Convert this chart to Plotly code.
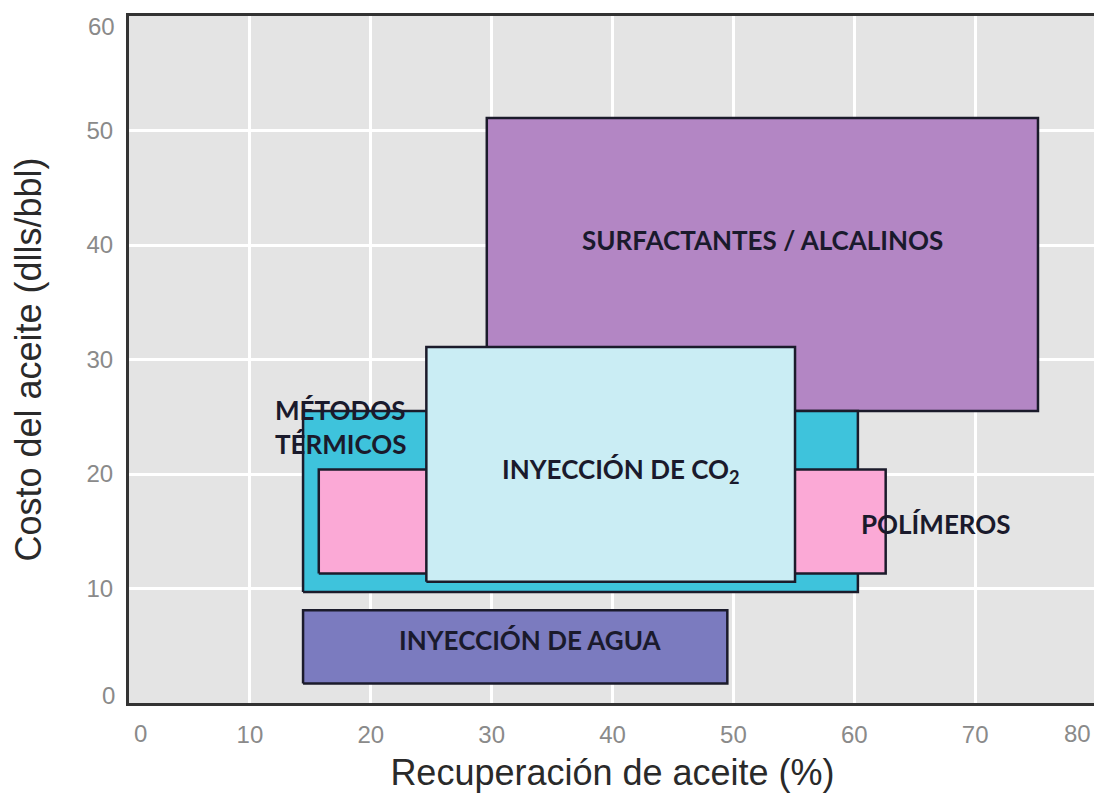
import plotly.graph_objects as go

# Data: rectangles (recovery % range, cost range)
methods = ["SURFACTANTES / ALCALINOS", "MÉTODOS TÉRMICOS", "POLÍMEROS", "INYECCIÓN DE CO₂", "INYECCIÓN DE AGUA"]
x_min = [29.6, 14.4, 15.7, 24.6, 14.4]
x_max = [75.2, 60.3, 62.6, 55.1, 49.5]
y_min = [25.5, 9.7, 11.3, 10.6, 1.7]
y_max = [51.1, 25.5, 20.4, 31.1, 8.1]
colors = ["#B386C4", "#3EC3DC", "#FBA9D6", "#CAEDF4", "#7B7BBF"]

label_text = ["SURFACTANTES / ALCALINOS", "MÉTODOS<br>TÉRMICOS", "POLÍMEROS",
              "INYECCIÓN DE CO<sub>2</sub>", "INYECCIÓN DE AGUA"]
label_x = [52.4, 17.5, 66.8, 40.7, 33.2]
label_y = [40.4, 24.1, 15.6, 20.3, 5.5]

x_ticks = [0, 10, 20, 30, 40, 50, 60, 70, 80]
y_ticks = [0, 10, 20, 30, 40, 50, 60]

TICK_FONT = dict(family="Liberation Sans, Arial", size=24, color="#8a8a8a")

fig = go.Figure()
for i, m in enumerate(methods):
    fig.add_trace(go.Scatter(
        x=[x_min[i], x_max[i], x_max[i], x_min[i], x_min[i]],
        y=[y_min[i], y_min[i], y_max[i], y_max[i], y_min[i]],
        mode="lines", fill="toself", fillcolor=colors[i],
        line=dict(color="#1b1b2b", width=2.5),
        name=m, hoverinfo="name", showlegend=False))

for t, x, y in zip(label_text, label_x, label_y):
    fig.add_annotation(x=x, y=y, text=t, showarrow=False, xref="x", yref="y",
                       font=dict(family="Lato", size=26, color="#1a1a2c", weight="bold"),
                       align="left" if "MÉTODOS" in t else "center")

# end tick labels are pulled inward in the reference: axis draws interior ones,
# end values are placed as text at their tick with a small inward nudge
x_end = [x_ticks[0], x_ticks[-1]]
x_end_nudge = [11, -19]
for v, dx in zip(x_end, x_end_nudge):
    fig.add_annotation(x=v, y=0, xref="x", yref="paper", text=str(v), showarrow=False,
                       xanchor="center", yanchor="middle", xshift=dx, yshift=-30, font=TICK_FONT)
y_end = [y_ticks[0], y_ticks[-1]]
y_end_nudge = [8, -10]
for v, dy in zip(y_end, y_end_nudge):
    fig.add_annotation(x=0, y=v, xref="paper", yref="y", text=str(v), showarrow=False,
                       xanchor="right", yanchor="middle", xshift=-12, yshift=dy, font=TICK_FONT)

# page body has an 8px margin: size/margins compensate so the plot lands where the reference has it
fig.update_layout(
    width=1094, height=786,
    margin=dict(l=121, r=6, t=8, b=91),
    paper_bgcolor="white", plot_bgcolor="#E4E4E4",
    font=dict(family="Liberation Sans, Arial", color="#222"),
)
fig.update_xaxes(range=[0, 80], tickvals=x_ticks[1:-1], showgrid=True,
                 gridcolor="white", gridwidth=2.5, automargin=False,
                 zeroline=False, showline=True, linecolor="#333", linewidth=3, mirror=True,
                 ticks="outside", ticklen=8, tickcolor="rgba(0,0,0,0)",
                 tickfont=TICK_FONT,
                 title=dict(text="Recuperación de aceite (%)", font=dict(size=36, color="#2a2a2a"), standoff=14))
fig.update_yaxes(range=[0, 60], tickvals=y_ticks[1:-1], showgrid=True,
                 gridcolor="white", gridwidth=2.5, automargin=False,
                 zeroline=False, showline=True, linecolor="#333", linewidth=3, mirror=True,
                 ticks="outside", ticklen=8, tickcolor="rgba(0,0,0,0)",
                 tickfont=TICK_FONT,
                 title=dict(text="Costo del aceite (dlls/bbl)", font=dict(size=36, color="#2a2a2a"), standoff=36))

fig.write_html("out.html")
